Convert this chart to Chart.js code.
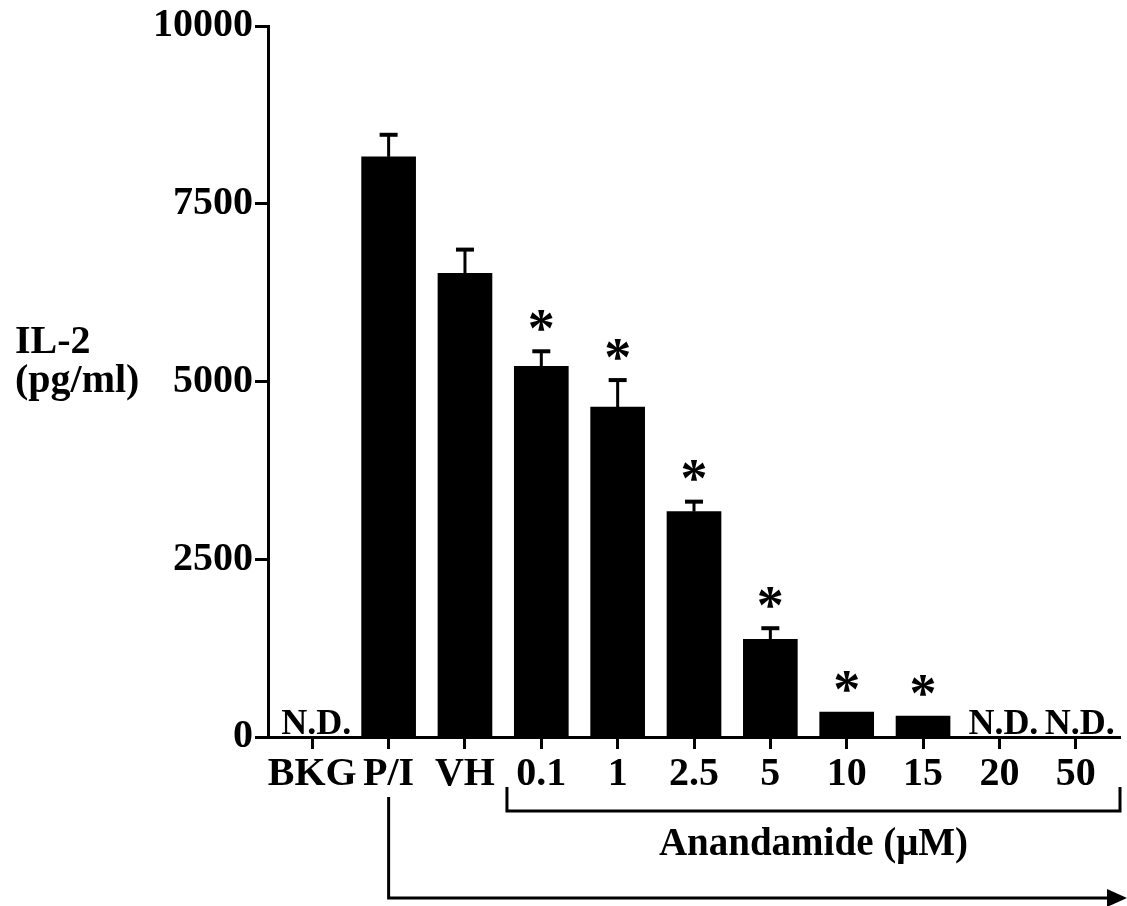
<!DOCTYPE html>
<html><head><meta charset="utf-8">
<script src="https://cdn.jsdelivr.net/npm/chart.js@4.4.1/dist/chart.umd.min.js"></script>
<style>html,body{margin:0;padding:0;background:#fff;}#wrap{width:1127px;height:906px;position:relative;}</style>
</head><body><div id="wrap"><canvas id="c"></canvas></div>
<script>
const categories = ['BKG','P/I','VH','0.1','1','2.5','5','10','15','20','50'];
const il2Values = [null, 8160, 6520, 5215, 4640, 3170, 1375, 350, 295, null, null];
const il2Errors = [0, 310, 335, 210, 380, 140, 155, 0, 0, 0, 0];
const significant = [false,false,false,true,true,true,true,true,true,false,false];
const yTicks = [0, 2500, 5000, 7500, 10000];
const yTitleLines = ['IL-2', '(pg/ml)'];
const groupLabel = 'Anandamide (\u03bcM)';
const ndLabel = 'N.D.';

const FONT = "'Liberation Serif', 'Times New Roman', serif";

const annot = {
  id: 'annot',
  afterDatasetsDraw(chart) {
    const {ctx, scales: {x, y}} = chart;
    ctx.save();
    ctx.strokeStyle = '#000';
    ctx.fillStyle = '#000';
    ctx.lineCap = 'butt';
    il2Values.forEach((v, i) => {
      const px = x.getPixelForValue(i);
      if (v == null) {
        ctx.font = 'bold 36px ' + FONT;
        ctx.textAlign = 'center';
        ctx.textBaseline = 'alphabetic';
        ctx.fillText(ndLabel, px + 4, y.bottom - 3);
        return;
      }
      const top = y.getPixelForValue(v);
      let capY = top;
      if (il2Errors[i] > 0) {
        capY = y.getPixelForValue(v + il2Errors[i]);
        ctx.lineWidth = 3;
        ctx.beginPath(); ctx.moveTo(px, top); ctx.lineTo(px, capY); ctx.stroke();
        ctx.lineWidth = 4;
        ctx.beginPath(); ctx.moveTo(px - 9, capY); ctx.lineTo(px + 9, capY); ctx.stroke();
      }
      if (significant[i]) {
        ctx.font = 'bold 54px ' + FONT;
        ctx.textAlign = 'center';
        ctx.textBaseline = 'alphabetic';
        const m = ctx.measureText('*');
        const off = (m.actualBoundingBoxAscent - m.actualBoundingBoxDescent) / 2;
        ctx.fillText('*', px, capY - 31 + off);
      }
    });
    // y title
    ctx.font = 'bold 40px ' + FONT;
    ctx.textAlign = 'left';
    ctx.textBaseline = 'alphabetic';
    ctx.fillText(yTitleLines[0], 15, 353);
    ctx.fillText(yTitleLines[1], 15, 392);
    // bracket
    const b1 = x.getPixelForValue(2.55);
    const b2 = x.right;
    ctx.lineWidth = 3;
    ctx.beginPath();
    ctx.moveTo(b1, 787); ctx.lineTo(b1, 811); ctx.lineTo(b2, 811); ctx.lineTo(b2, 787);
    ctx.stroke();
    ctx.font = 'bold 39px ' + FONT;
    ctx.textAlign = 'center';
    ctx.fillText(groupLabel, (b1 + b2) / 2, 855);
    // arrow
    const a1 = x.getPixelForValue(1);
    ctx.beginPath();
    ctx.moveTo(a1, 797); ctx.lineTo(a1, 898); ctx.lineTo(1110, 898);
    ctx.stroke();
    ctx.beginPath();
    ctx.moveTo(1107, 889); ctx.lineTo(1127, 898); ctx.lineTo(1107, 907); ctx.closePath();
    ctx.fill();
    ctx.restore();
  }
};

new Chart(document.getElementById('c'), {
  type: 'bar',
  data: {
    datasets: [{
      data: il2Values.map((v, i) => ({x: i, y: v})),
      backgroundColor: '#000',
      borderWidth: 0,
      barThickness: 54
    }]
  },
  options: {
    responsive: true,
    maintainAspectRatio: false,
    animation: false,
    layout: {padding: {top: 24, right: 7, left: 0, bottom: 0}},
    plugins: {legend: {display: false}, tooltip: {enabled: false}},
    scales: {
      x: {
        type: 'linear', min: -0.58, max: 10.58, offset: false,
        afterBuildTicks: s => { s.ticks = categories.map((_, i) => ({value: i})); },
        afterFit: s => { s.height = 169; },
        grid: {offset: false, drawOnChartArea: false, drawTicks: true, tickLength: 12, tickWidth: 3, tickColor: '#000'},
        border: {display: true, width: 3, color: '#000'},
        ticks: {
          callback: v => categories[v] ?? '',
          font: {family: FONT, size: 40, weight: 'bold'},
          color: '#000', padding: 2, maxRotation: 0, autoSkip: false
        }
      },
      y: {
        min: 0, max: 10000,
        afterBuildTicks: s => { s.ticks = yTicks.map(v => ({value: v})); },
        afterFit: s => { s.width = 268; },
        grid: {offset: false, drawOnChartArea: false, drawTicks: true, tickLength: 13, tickWidth: 3, tickColor: '#000'},
        border: {display: true, width: 3, color: '#000'},
        ticks: {
          callback: v => String(v),
          font: {family: FONT, size: 40, weight: 'bold'},
          color: '#000', padding: 2
        }
      }
    }
  },
  plugins: [annot]
});
</script></body></html>
